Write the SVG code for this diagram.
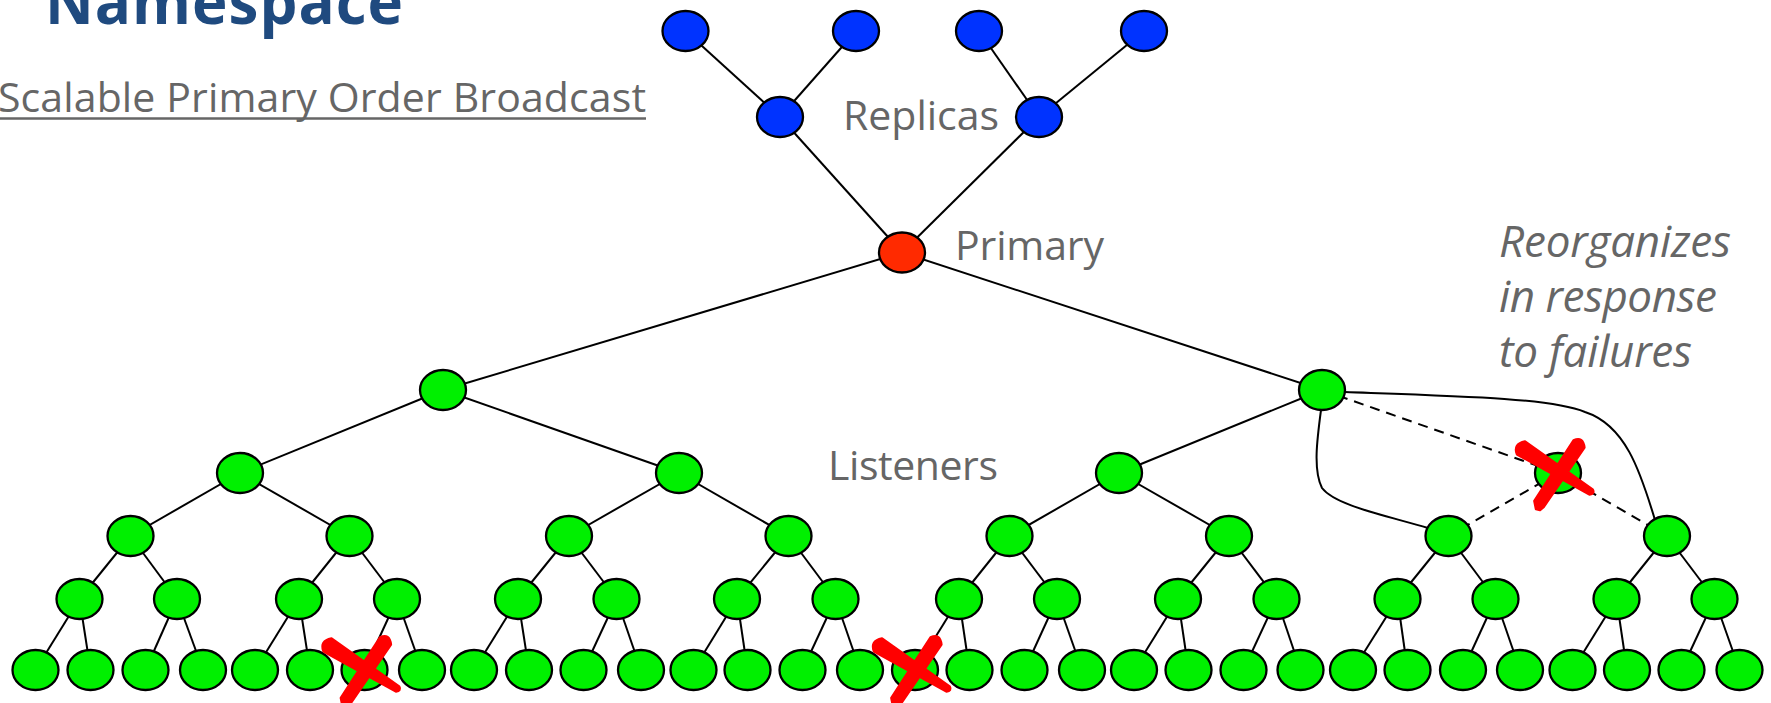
<svg xmlns="http://www.w3.org/2000/svg" xmlns:xlink="http://www.w3.org/1999/xlink" width="1771" height="703" viewBox="0 0 1771 703">
  <style>
    .g { fill: #00F000; }
    .b { fill: #0033FF; }
    .r { fill: #FF2A00; }
    .nd { stroke: #000; stroke-width: 2.3; }
    .e { stroke: #000; stroke-width: 2; fill: none; }
    .d { stroke: #000; stroke-width: 2; stroke-dasharray: 10 7; fill: none; }
    .lbl { font-family: "Open Sans", "Liberation Sans", sans-serif; font-size: 41px; fill: #666; }
    .it { font-style: italic; font-size: 44px; }
    .title { font-family: "Open Sans", "Liberation Sans", sans-serif; font-weight: bold; font-size: 60px; fill: #1F4A7F; }
    .x { fill: #FF0000; stroke: #FF0000; stroke-width: 2.5; stroke-linejoin: round; }
  </style>
  <defs>
    <ellipse id="node" class="nd" cx="0" cy="0" rx="23" ry="20"/>
    <!-- brush-stroke cross marking a failed process -->
    <g id="fail-x" class="x">
      <path d="M-33,-31.4 L34.6,16.5 Q37,20.5 31.4,21.5 L-41,-18.7 Q-45,-29 -33,-31.4 Z"/>
      <path d="M15.6,-32.6 Q25,-37 26.4,-25.4 L-14.4,34 L-18,37 L-22,36 L-23.6,28 Z"/>
    </g>
  </defs>
  <rect width="1771" height="703" fill="#fff"/>

  <!-- headings -->
  <text class="title" x="45" y="24" textLength="358">Namespace</text>
  <text class="lbl" x="-2" y="112" font-size="39" textLength="648">Scalable Primary Order Broadcast</text>
  <line x1="-2" y1="118.5" x2="646" y2="118.5" stroke="#666" stroke-width="2.5"/>

  <!-- labels -->
  <text class="lbl" x="843" y="130" textLength="156">Replicas</text>
  <text class="lbl" x="955" y="259.5" textLength="149">Primary</text>
  <text class="lbl" x="828" y="480" textLength="170">Listeners</text>
  <text class="lbl it" x="1499" y="257" textLength="232">Reorganizes</text>
  <text class="lbl it" x="1499" y="312" textLength="218">in response</text>
  <text class="lbl it" x="1499" y="367" textLength="193">to failures</text>

  <g id="connectors">
    <!-- replica tree -->
    <line class="e" x1="685.5" y1="31" x2="780" y2="117"/>
    <line class="e" x1="856" y1="31" x2="780" y2="117"/>
    <line class="e" x1="979" y1="31" x2="1039" y2="117"/>
    <line class="e" x1="1144" y1="31" x2="1039" y2="117"/>
    <line class="e" x1="780" y1="117" x2="902" y2="252.5"/>
    <line class="e" x1="1039" y1="117" x2="902" y2="252.5"/>
    <!-- primary to listeners -->
    <line class="e" x1="902" y1="252.5" x2="443" y2="390"/>
    <line class="e" x1="902" y1="252.5" x2="1322" y2="390"/>
    <line class="e" x1="443" y1="390" x2="240" y2="473"/>
    <line class="e" x1="443" y1="390" x2="679" y2="473"/>
    <line class="e" x1="1322" y1="390" x2="1119" y2="473"/>
    <line class="e" x1="240" y1="473" x2="130.5" y2="536"/>
    <line class="e" x1="240" y1="473" x2="349.5" y2="536"/>
    <line class="e" x1="679" y1="473" x2="569" y2="536"/>
    <line class="e" x1="679" y1="473" x2="788.5" y2="536"/>
    <line class="e" x1="1119" y1="473" x2="1009.5" y2="536"/>
    <line class="e" x1="1119" y1="473" x2="1229" y2="536"/>
    <!-- links through the failed listener -->
    <line class="d" x1="1322" y1="390" x2="1558" y2="473"/>
    <line class="d" x1="1558" y1="473" x2="1448.5" y2="536"/>
    <line class="d" x1="1558" y1="473" x2="1667" y2="536"/>
    <!-- replacement links -->
    <path class="e" d="M1321,410 C1317,440 1313,470 1322,488 C1335,505 1380,514 1428,528"/>
    <path class="e" d="M1345,392 C1460,396 1550,398 1585,412 C1625,425 1640,470 1655,520"/>
    <!-- level 3 to level 4 -->
    <line class="e" x1="130.5" y1="536" x2="79.5" y2="599"/>
    <line class="e" x1="130.5" y1="536" x2="177" y2="599"/>
    <line class="e" x1="349.5" y1="536" x2="299" y2="599"/>
    <line class="e" x1="349.5" y1="536" x2="397" y2="599"/>
    <line class="e" x1="569" y1="536" x2="518" y2="599"/>
    <line class="e" x1="569" y1="536" x2="616.5" y2="599"/>
    <line class="e" x1="788.5" y1="536" x2="737" y2="599"/>
    <line class="e" x1="788.5" y1="536" x2="835.5" y2="599"/>
    <line class="e" x1="1009.5" y1="536" x2="959" y2="599"/>
    <line class="e" x1="1009.5" y1="536" x2="1057" y2="599"/>
    <line class="e" x1="1229" y1="536" x2="1178" y2="599"/>
    <line class="e" x1="1229" y1="536" x2="1276.5" y2="599"/>
    <line class="e" x1="1448.5" y1="536" x2="1397.5" y2="599"/>
    <line class="e" x1="1448.5" y1="536" x2="1495.5" y2="599"/>
    <line class="e" x1="1667" y1="536" x2="1616.5" y2="599"/>
    <line class="e" x1="1667" y1="536" x2="1714.5" y2="599"/>
    <!-- level 4 to leaves -->
    <line class="e" x1="79.5" y1="599" x2="35.5" y2="670"/>
    <line class="e" x1="79.5" y1="599" x2="90.5" y2="670"/>
    <line class="e" x1="177" y1="599" x2="145.5" y2="670"/>
    <line class="e" x1="177" y1="599" x2="203" y2="670"/>
    <line class="e" x1="299" y1="599" x2="255" y2="670"/>
    <line class="e" x1="299" y1="599" x2="310" y2="670"/>
    <line class="e" x1="397" y1="599" x2="364.5" y2="670"/>
    <line class="e" x1="397" y1="599" x2="422" y2="670"/>
    <line class="e" x1="518" y1="599" x2="474" y2="670"/>
    <line class="e" x1="518" y1="599" x2="529" y2="670"/>
    <line class="e" x1="616.5" y1="599" x2="583.5" y2="670"/>
    <line class="e" x1="616.5" y1="599" x2="641" y2="670"/>
    <line class="e" x1="737" y1="599" x2="693.5" y2="670"/>
    <line class="e" x1="737" y1="599" x2="747.5" y2="670"/>
    <line class="e" x1="835.5" y1="599" x2="802.5" y2="670"/>
    <line class="e" x1="835.5" y1="599" x2="860" y2="670"/>
    <line class="e" x1="959" y1="599" x2="915" y2="670"/>
    <line class="e" x1="959" y1="599" x2="969.5" y2="670"/>
    <line class="e" x1="1057" y1="599" x2="1024.5" y2="670"/>
    <line class="e" x1="1057" y1="599" x2="1082" y2="670"/>
    <line class="e" x1="1178" y1="599" x2="1134" y2="670"/>
    <line class="e" x1="1178" y1="599" x2="1188.5" y2="670"/>
    <line class="e" x1="1276.5" y1="599" x2="1243.5" y2="670"/>
    <line class="e" x1="1276.5" y1="599" x2="1300.5" y2="670"/>
    <line class="e" x1="1397.5" y1="599" x2="1353" y2="670"/>
    <line class="e" x1="1397.5" y1="599" x2="1407.5" y2="670"/>
    <line class="e" x1="1495.5" y1="599" x2="1463" y2="670"/>
    <line class="e" x1="1495.5" y1="599" x2="1520" y2="670"/>
    <line class="e" x1="1616.5" y1="599" x2="1572.5" y2="670"/>
    <line class="e" x1="1616.5" y1="599" x2="1627" y2="670"/>
    <line class="e" x1="1714.5" y1="599" x2="1681.5" y2="670"/>
    <line class="e" x1="1714.5" y1="599" x2="1739.5" y2="670"/>
  </g>

  <!-- replicas -->
  <g id="replica-1"><use href="#node" class="b" x="685.5" y="31"/></g>
  <g id="replica-2"><use href="#node" class="b" x="856" y="31"/></g>
  <g id="replica-3"><use href="#node" class="b" x="979" y="31"/></g>
  <g id="replica-4"><use href="#node" class="b" x="1144" y="31"/></g>
  <g id="replica-5"><use href="#node" class="b" x="780" y="117"/></g>
  <g id="replica-6"><use href="#node" class="b" x="1039" y="117"/></g>
  <!-- primary -->
  <g id="primary"><use href="#node" class="r" x="902" y="252.5"/></g>
  <!-- listeners, level 1 -->
  <g id="listener-1a"><use href="#node" class="g" x="443" y="390"/></g>
  <g id="listener-1b"><use href="#node" class="g" x="1322" y="390"/></g>
  <!-- level 2 -->
  <g id="listener-2a"><use href="#node" class="g" x="240" y="473"/></g>
  <g id="listener-2b"><use href="#node" class="g" x="679" y="473"/></g>
  <g id="listener-2c"><use href="#node" class="g" x="1119" y="473"/></g>
  <g id="listener-2d"><use href="#node" class="g" x="1558" y="473"/></g>
  <!-- level 3 -->
  <g id="listener-3a"><use href="#node" class="g" x="130.5" y="536"/></g>
  <g id="listener-3b"><use href="#node" class="g" x="349.5" y="536"/></g>
  <g id="listener-3c"><use href="#node" class="g" x="569" y="536"/></g>
  <g id="listener-3d"><use href="#node" class="g" x="788.5" y="536"/></g>
  <g id="listener-3e"><use href="#node" class="g" x="1009.5" y="536"/></g>
  <g id="listener-3f"><use href="#node" class="g" x="1229" y="536"/></g>
  <g id="listener-3g"><use href="#node" class="g" x="1448.5" y="536"/></g>
  <g id="listener-3h"><use href="#node" class="g" x="1667" y="536"/></g>
  <!-- level 4 -->
  <g id="listener-4-01"><use href="#node" class="g" x="79.5" y="599"/></g>
  <g id="listener-4-02"><use href="#node" class="g" x="177" y="599"/></g>
  <g id="listener-4-03"><use href="#node" class="g" x="299" y="599"/></g>
  <g id="listener-4-04"><use href="#node" class="g" x="397" y="599"/></g>
  <g id="listener-4-05"><use href="#node" class="g" x="518" y="599"/></g>
  <g id="listener-4-06"><use href="#node" class="g" x="616.5" y="599"/></g>
  <g id="listener-4-07"><use href="#node" class="g" x="737" y="599"/></g>
  <g id="listener-4-08"><use href="#node" class="g" x="835.5" y="599"/></g>
  <g id="listener-4-09"><use href="#node" class="g" x="959" y="599"/></g>
  <g id="listener-4-10"><use href="#node" class="g" x="1057" y="599"/></g>
  <g id="listener-4-11"><use href="#node" class="g" x="1178" y="599"/></g>
  <g id="listener-4-12"><use href="#node" class="g" x="1276.5" y="599"/></g>
  <g id="listener-4-13"><use href="#node" class="g" x="1397.5" y="599"/></g>
  <g id="listener-4-14"><use href="#node" class="g" x="1495.5" y="599"/></g>
  <g id="listener-4-15"><use href="#node" class="g" x="1616.5" y="599"/></g>
  <g id="listener-4-16"><use href="#node" class="g" x="1714.5" y="599"/></g>
  <!-- leaves -->
  <g id="leaf-01"><use href="#node" class="g" x="35.5" y="670"/></g>
  <g id="leaf-02"><use href="#node" class="g" x="90.5" y="670"/></g>
  <g id="leaf-03"><use href="#node" class="g" x="145.5" y="670"/></g>
  <g id="leaf-04"><use href="#node" class="g" x="203" y="670"/></g>
  <g id="leaf-05"><use href="#node" class="g" x="255" y="670"/></g>
  <g id="leaf-06"><use href="#node" class="g" x="310" y="670"/></g>
  <g id="leaf-07"><use href="#node" class="g" x="364.5" y="670"/></g>
  <g id="leaf-08"><use href="#node" class="g" x="422" y="670"/></g>
  <g id="leaf-09"><use href="#node" class="g" x="474" y="670"/></g>
  <g id="leaf-10"><use href="#node" class="g" x="529" y="670"/></g>
  <g id="leaf-11"><use href="#node" class="g" x="583.5" y="670"/></g>
  <g id="leaf-12"><use href="#node" class="g" x="641" y="670"/></g>
  <g id="leaf-13"><use href="#node" class="g" x="693.5" y="670"/></g>
  <g id="leaf-14"><use href="#node" class="g" x="747.5" y="670"/></g>
  <g id="leaf-15"><use href="#node" class="g" x="802.5" y="670"/></g>
  <g id="leaf-16"><use href="#node" class="g" x="860" y="670"/></g>
  <g id="leaf-17"><use href="#node" class="g" x="915" y="670"/></g>
  <g id="leaf-18"><use href="#node" class="g" x="969.5" y="670"/></g>
  <g id="leaf-19"><use href="#node" class="g" x="1024.5" y="670"/></g>
  <g id="leaf-20"><use href="#node" class="g" x="1082" y="670"/></g>
  <g id="leaf-21"><use href="#node" class="g" x="1134" y="670"/></g>
  <g id="leaf-22"><use href="#node" class="g" x="1188.5" y="670"/></g>
  <g id="leaf-23"><use href="#node" class="g" x="1243.5" y="670"/></g>
  <g id="leaf-24"><use href="#node" class="g" x="1300.5" y="670"/></g>
  <g id="leaf-25"><use href="#node" class="g" x="1353" y="670"/></g>
  <g id="leaf-26"><use href="#node" class="g" x="1407.5" y="670"/></g>
  <g id="leaf-27"><use href="#node" class="g" x="1463" y="670"/></g>
  <g id="leaf-28"><use href="#node" class="g" x="1520" y="670"/></g>
  <g id="leaf-29"><use href="#node" class="g" x="1572.5" y="670"/></g>
  <g id="leaf-30"><use href="#node" class="g" x="1627" y="670"/></g>
  <g id="leaf-31"><use href="#node" class="g" x="1681.5" y="670"/></g>
  <g id="leaf-32"><use href="#node" class="g" x="1739.5" y="670"/></g>

  <!-- crosses over failed listeners -->
  <g id="failure-marks">
    <use href="#fail-x" x="364.5" y="670"/>
    <use href="#fail-x" x="915" y="670"/>
    <use href="#fail-x" x="1558" y="473"/>
  </g>
</svg>
